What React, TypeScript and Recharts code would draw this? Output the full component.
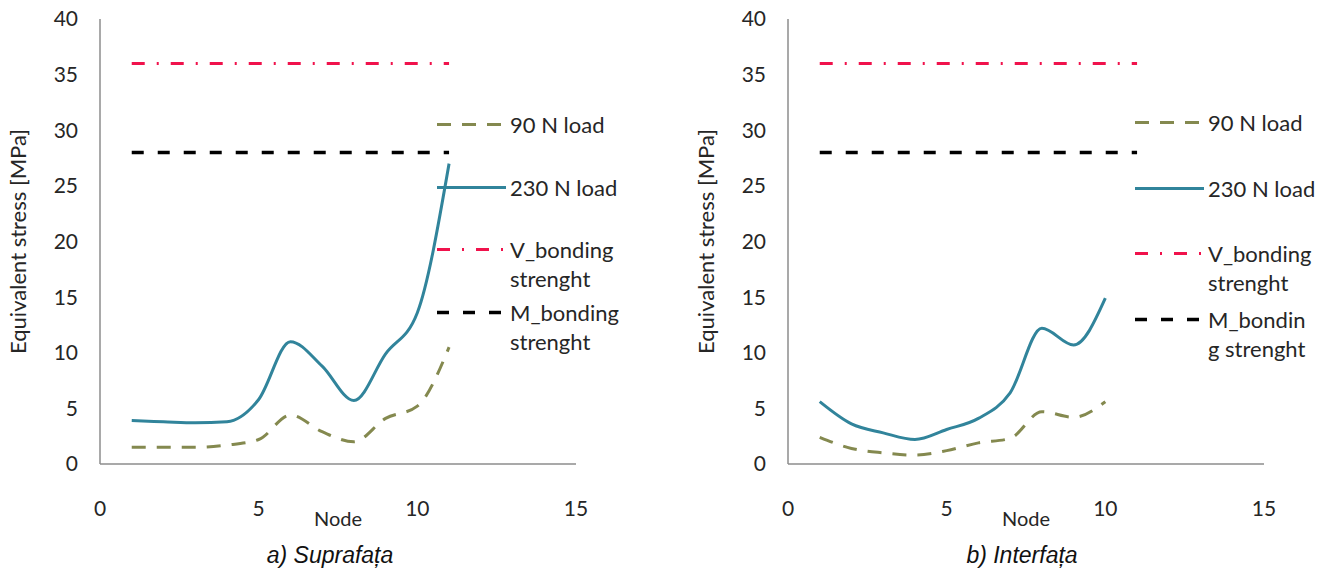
import React from "react";
import { LineChart, Line, XAxis, YAxis, Legend } from "recharts";

// a) Suprafata
const nodesA = [1, 2, 3, 4, 5, 6, 7, 8, 9, 10, 11];
const load90A = [1.5, 1.5, 1.5, 1.7, 2.2, 4.4, 2.9, 2.0, 4.1, 5.2, 10.5];
const load230A = [3.9, 3.8, 3.7, 3.8, 5.8, 11.0, 8.8, 5.7, 9.9, 13.6, 27.0];

// b) Interfata
const nodesB = [1, 2, 3, 4, 5, 6, 7, 8, 9, 10];
const load90B = [2.4, 1.4, 1.0, 0.8, 1.2, 1.9, 2.3, 4.7, 4.2, 5.6];
const load230B = [5.6, 3.6, 2.8, 2.2, 3.1, 4.1, 6.4, 12.2, 10.7, 14.9];

const bondingNodes = [1, 11];
const vBondingStrength = 36;
const mBondingStrength = 28;

const xTicks = [0, 5, 10, 15];
const yTicks = [0, 5, 10, 15, 20, 25, 30, 35, 40];

const FONT = "Lato, 'Open Sans', sans-serif";
const TEXT = "#262626";
const AXIS = "#8c8c8c";

const series = [
  { key: "load90", color: "#84894f", dash: "14 11", width: 3 },
  { key: "load230", color: "#31849b", dash: undefined, width: 3 },
  { key: "vBond", color: "#f0124c", dash: "13 12 2 12", width: 3 },
  { key: "mBond", color: "#000000", dash: "12 14", width: 3.5 },
];

type PanelProps = {
  left: number;
  nodes: number[];
  load90: number[];
  load230: number[];
  caption: string;
  captionLeft: number;
  labels: string[][];
  legendLeft: number;
  legendTop: number;
  legendGap: number;
};

function StressLegend({ labels, gap }: { labels: string[][]; gap: number }) {
  return (
    <div style={{ fontFamily: FONT, fontSize: 22, color: TEXT }}>
      {series.map((s, i) => (
        <div key={s.key} style={{ display: "flex", height: gap, alignItems: "flex-start" }}>
          <svg width={73} height={29} style={{ flex: "none" }}>
            <line
              x1={0}
              x2={69}
              y1={14.5}
              y2={14.5}
              stroke={s.color}
              strokeWidth={s.width}
              strokeDasharray={s.dash}
            />
          </svg>
          <div style={{ lineHeight: "29px", whiteSpace: "nowrap" }}>
            {labels[i].map((t) => (
              <div key={t}>{t}</div>
            ))}
          </div>
        </div>
      ))}
    </div>
  );
}

function StressPanel(p: PanelProps) {
  const data = p.nodes.map((n, i) => ({ node: n, load90: p.load90[i], load230: p.load230[i] }));
  const bonding = bondingNodes.map((n) => ({ node: n, vBond: vBondingStrength, mBond: mBondingStrength }));

  return (
    <div style={{ position: "absolute", left: p.left, top: 0, width: 665, height: 577 }}>
      <LineChart width={665} height={540} margin={{ top: 19, right: 89, left: 0, bottom: 36 }}>
        <XAxis
          type="number"
          dataKey="node"
          domain={[0, 15]}
          ticks={xTicks}
          tickLine={false}
          tickSize={0}
          tickMargin={37}
          height={40}
          axisLine={{ stroke: AXIS, strokeWidth: 1.5 }}
          tick={{ fill: TEXT, fontSize: 21, fontFamily: FONT }}
          label={{ value: "Node", position: "bottom", offset: 8, fill: TEXT, fontSize: 20, fontFamily: FONT }}
        />
        <YAxis
          type="number"
          domain={[0, 40]}
          ticks={yTicks}
          width={100}
          tickLine={false}
          tickSize={0}
          tickMargin={22}
          axisLine={{ stroke: AXIS, strokeWidth: 1.5 }}
          tick={{ fill: TEXT, fontSize: 21, fontFamily: FONT }}
          label={{
            value: "Equivalent stress [MPa]",
            angle: -90,
            position: "insideLeft",
            offset: 18,
            fill: TEXT,
            fontSize: 22,
            fontFamily: FONT,
            style: { textAnchor: "middle" },
          }}
        />
        <Legend
          layout="vertical"
          align="center"
          verticalAlign="middle"
          wrapperStyle={{ left: p.legendLeft, top: p.legendTop, width: 220 }}
          content={() => <StressLegend labels={p.labels} gap={p.legendGap} />}
        />
        <Line
          data={bonding}
          dataKey="vBond"
          stroke={series[2].color}
          strokeWidth={series[2].width}
          strokeDasharray={series[2].dash}
          dot={false}
          isAnimationActive={false}
        />
        <Line
          data={bonding}
          dataKey="mBond"
          stroke={series[3].color}
          strokeWidth={series[3].width}
          strokeDasharray={series[3].dash}
          dot={false}
          isAnimationActive={false}
        />
        <Line
          data={data}
          type="monotone"
          dataKey="load90"
          stroke={series[0].color}
          strokeWidth={series[0].width}
          strokeDasharray={series[0].dash}
          dot={false}
          isAnimationActive={false}
        />
        <Line
          data={data}
          type="monotone"
          dataKey="load230"
          stroke={series[1].color}
          strokeWidth={series[1].width}
          dot={false}
          isAnimationActive={false}
        />
      </LineChart>
      <div
        style={{
          position: "absolute",
          top: 542,
          left: p.captionLeft - 200,
          width: 400,
          textAlign: "center",
          fontFamily: "'Liberation Sans', Arial, sans-serif",
          fontStyle: "italic",
          fontSize: 23,
          color: "#111",
        }}
      >
        {p.caption}
      </div>
    </div>
  );
}

export default function App() {
  return (
    <div style={{ position: "absolute", left: 0, top: 0, width: 1333, height: 577, background: "#fff" }}>
      <StressPanel
        left={0}
        nodes={nodesA}
        load90={load90A}
        load230={load230A}
        caption="a) Suprafața"
        captionLeft={330}
        labels={[["90 N load"], ["230 N load"], ["V_bonding", "strenght"], ["M_bonding", "strenght"]]}
        legendLeft={437}
        legendTop={110}
        legendGap={62.7}
      />
      <StressPanel
        left={688}
        nodes={nodesB}
        load90={load90B}
        load230={load230B}
        caption="b) Interfața"
        captionLeft={334}
        labels={[["90 N load"], ["230 N load"], ["V_bonding", "strenght"], ["M_bondin", "g strenght"]]}
        legendLeft={447}
        legendTop={108}
        legendGap={65.7}
      />
    </div>
  );
}
